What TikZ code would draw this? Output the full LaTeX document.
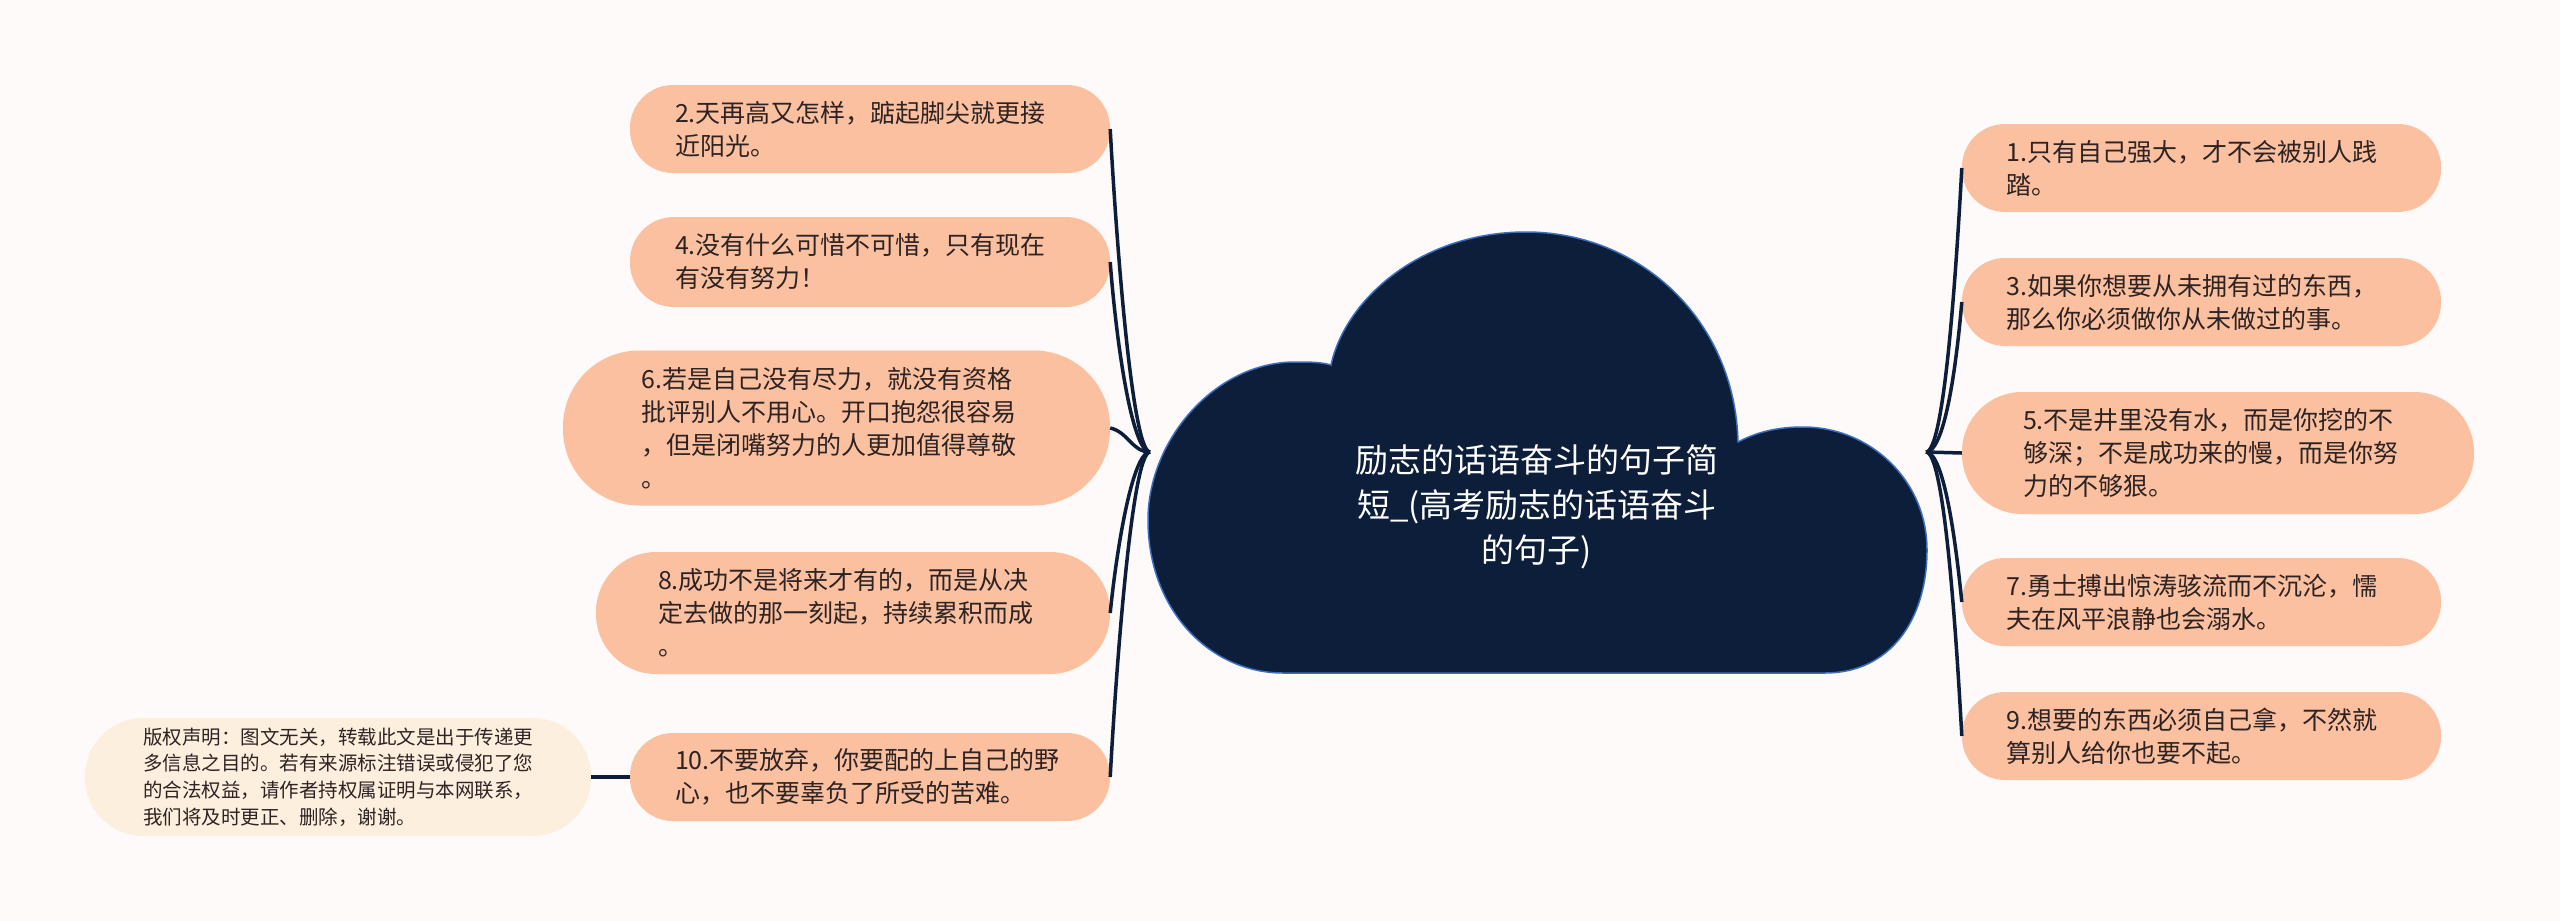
\documentclass[tikz,border=0pt]{standalone}
\usepackage{fontspec}
\setmainfont{Noto Sans CJK SC}
\usepackage{tikz}
\usetikzlibrary{calc}
\definecolor{paper}{RGB}{253,250,249}
\definecolor{peach}{RGB}{251,192,160}
\definecolor{cream}{RGB}{253,239,222}
\definecolor{navy}{RGB}{12,30,58}
\definecolor{rim}{RGB}{60,110,190}
\definecolor{ink}{RGB}{45,35,35}

\begin{document}
\begin{tikzpicture}[x=1pt, y=-1pt,
  quote/.style={fill=peach, text=ink, text width=390pt, align=left, inner sep=0pt,
    font=\fontsize{25}{33}\selectfont},
  branch/.style={draw=navy, line width=3.5pt}]
\fill[paper] (0,0) rectangle (2560,921);
\useasboundingbox (0,0) rectangle (2560,921);

% left branch
\node[quote, minimum width=480, minimum height=88, rounded corners=43] (q2) at (870,129)
  {2.天再高又怎样，踮起脚尖就更接\\近阳光。};
\node[quote, minimum width=480, minimum height=90, rounded corners=44] (q4) at (870,262)
  {4.没有什么可惜不可惜，只有现在\\有没有努力！};
\node[quote, minimum width=547, minimum height=155, rounded corners=76] (q6) at (836.5,428)
  {6.若是自己没有尽力，就没有资格\\批评别人不用心。开口抱怨很容易\\，但是闭嘴努力的人更加值得尊敬\\。};
\node[quote, minimum width=514, minimum height=122, rounded corners=60] (q8) at (853,613)
  {8.成功不是将来才有的，而是从决\\定去做的那一刻起，持续累积而成\\。};
\node[quote, minimum width=480, minimum height=88, rounded corners=43] (q10) at (870,777)
  {10.不要放弃，你要配的上自己的野\\心，也不要辜负了所受的苦难。};
\node[quote, fill=cream, font=\fontsize{19.5}{26.7}\selectfont,
      minimum width=506, minimum height=118, rounded corners=58] (note) at (338,777)
  {版权声明：图文无关，转载此文是出于传递更\\多信息之目的。若有来源标注错误或侵犯了您\\的合法权益，请作者持权属证明与本网联系，\\我们将及时更正、删除，谢谢。};

% right branch
\node[quote, minimum width=479, minimum height=88, rounded corners=43] (q1) at (2201.5,168)
  {1.只有自己强大，才不会被别人践\\踏。};
\node[quote, minimum width=479, minimum height=88, rounded corners=43] (q3) at (2201.5,302)
  {3.如果你想要从未拥有过的东西，\\那么你必须做你从未做过的事。};
\node[quote, minimum width=512, minimum height=122, rounded corners=60] (q5) at (2218,453)
  {5.不是井里没有水，而是你挖的不\\够深；不是成功来的慢，而是你努\\力的不够狠。};
\node[quote, minimum width=479, minimum height=88, rounded corners=43] (q7) at (2201.5,602)
  {7.勇士搏出惊涛骇流而不沉沦，懦\\夫在风平浪静也会溺水。};
\node[quote, minimum width=479, minimum height=88, rounded corners=43] (q9) at (2201.5,736)
  {9.想要的东西必须自己拿，不然就\\算别人给你也要不起。};

\coordinate (jl) at (1150,452);
\coordinate (jr) at (1926,452);

\draw[branch] (jl) .. controls +(-18,0) and +(6,110) .. (q2.east);
\draw[branch] (jl) .. controls +(-18,0) and +(6,80) .. (q4.east);
\draw[branch] (jl) .. controls +(-18,0) and +(18,4) .. (q6.east);
\draw[branch] (jl) .. controls +(-18,0) and +(6,-60) .. (q8.east);
\draw[branch] (jl) .. controls +(-18,0) and +(6,-110) .. (q10.east);
\draw[branch] (note) -- (q10);

\draw[branch] (jr) .. controls +(18,0) and +(-6,110) .. (q1.west);
\draw[branch] (jr) .. controls +(18,0) and +(-6,70) .. (q3.west);
\draw[branch] (jr) -- (q5.west);
\draw[branch] (jr) .. controls +(18,0) and +(-6,-60) .. (q7.west);
\draw[branch] (jr) .. controls +(18,0) and +(-6,-110) .. (q9.west);

% central cloud
\filldraw[fill=navy, draw=rim, line width=1.5pt]
  (1283,673) -- (1825,673)
  .. controls (1890,673) and (1927,620) .. (1927,550)
  .. controls (1927,480) and (1870,427) .. (1803,427)
  .. controls (1775,427) and (1755,433) .. (1738,442)
  .. controls (1735,320) and (1640,232) .. (1526,232)
  .. controls (1420,232) and (1345,300) .. (1331,365)
  .. controls (1320,362) and (1310,362) .. (1295,362)
  .. controls (1215,362) and (1148,440) .. (1148,520)
  .. controls (1148,610) and (1210,673) .. (1283,673) -- cycle;
\node[text=white, align=center, font=\fontsize{33}{45}\selectfont] (title) at (1537,507)
  {励志的话语奋斗的句子简\\短\_(高考励志的话语奋斗\\的句子)};
\end{tikzpicture}
\end{document}
